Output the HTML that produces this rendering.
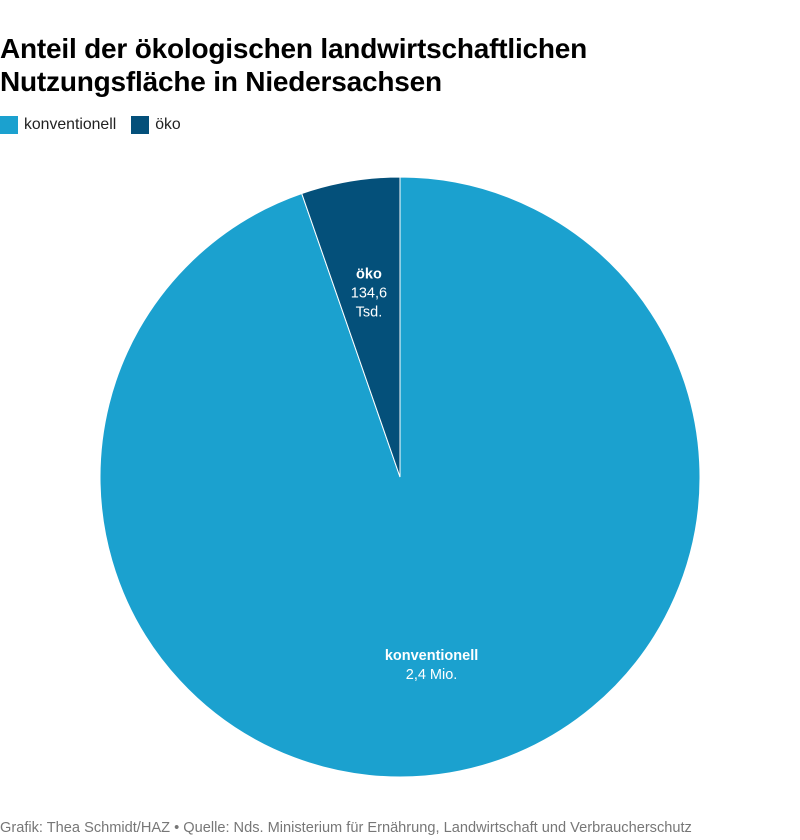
<!DOCTYPE html>
<html><head><meta charset="utf-8"><style>
body{margin:0;background:#fff;font-family:"Liberation Sans",sans-serif;width:800px;height:840px;overflow:hidden;position:relative}
h1{position:absolute;left:0;top:32px;margin:0;font-size:28px;line-height:33px;font-weight:bold;color:#000;letter-spacing:-0.2px}
.legend{position:absolute;left:0;top:116px;font-size:15.8px;color:#222;display:flex;align-items:center}
.sw{display:inline-block;width:18px;height:18px;margin-right:6px}
.foot{position:absolute;left:0;top:820px;font-size:14.6px;color:#777}
</style></head><body>
<h1>Anteil der ökologischen landwirtschaftlichen<br>Nutzungsfläche in Niedersachsen</h1>
<div class="legend">
<span style="display:flex;align-items:center;margin-right:15px"><span class="sw" style="background:#1ba1cf"></span>konventionell</span>
<span style="display:flex;align-items:center"><span class="sw" style="background:#04507a"></span>öko</span>
</div>
<svg id="pie" width="800" height="840" style="position:absolute;left:0;top:0"></svg>
<div class="foot">Grafik: Thea Schmidt/HAZ • Quelle: Nds. Ministerium für Ernährung, Landwirtschaft und Verbraucherschutz</div>
<script>
const categories=["konventionell","öko"];
const values=[2400,134.6];
const valueLabels=["2,4 Mio.","134,6 Tsd."];
const colors=["#1ba1cf","#04507a"];
const cx=400,cy=477,r=300;
const svg=document.getElementById('pie');
const ns="http://www.w3.org/2000/svg";
const total=values.reduce((a,b)=>a+b,0);
function pt(a,rr){return [cx+rr*Math.sin(a),cy-rr*Math.cos(a)];}
let start=0;
values.forEach((v,i)=>{
  const sweep=v/total*2*Math.PI;
  const a0=start,a1=start+sweep;
  const p0=pt(a0,r),p1=pt(a1,r);
  const large=sweep>Math.PI?1:0;
  const path=document.createElementNS(ns,'path');
  path.setAttribute('d',`M${cx},${cy}L${p0[0]},${p0[1]}A${r},${r} 0 ${large} 1 ${p1[0]},${p1[1]}Z`);
  path.setAttribute('fill',colors[i]);
  path.setAttribute('stroke','#fff');
  path.setAttribute('stroke-width','1');
  
  
  svg.appendChild(path);
  const mid=(a0+a1)/2;
  const lr=i===0?190:187;
  const lp=pt(mid,lr);
  const lines=i===0?[[categories[i],true],[valueLabels[i],false]]:[[categories[i],true],["134,6",false],["Tsd.",false]];
  const g=document.createElementNS(ns,'text');
  
  
  g.setAttribute('text-anchor','middle');
  g.setAttribute('font-size','14.5');
  g.setAttribute('fill','#fff');
  const y0=lp[1]-(lines.length-1)*9.5+5;
  lines.forEach((l,k)=>{
    const t=document.createElementNS(ns,'tspan');
    t.setAttribute('x',lp[0]);t.setAttribute('y',y0+k*19);
    if(l[1])t.setAttribute('font-weight','bold');
    t.textContent=l[0];g.appendChild(t);
  });
  svg.appendChild(g);
  start=a1;
});
</script>
</body></html>
